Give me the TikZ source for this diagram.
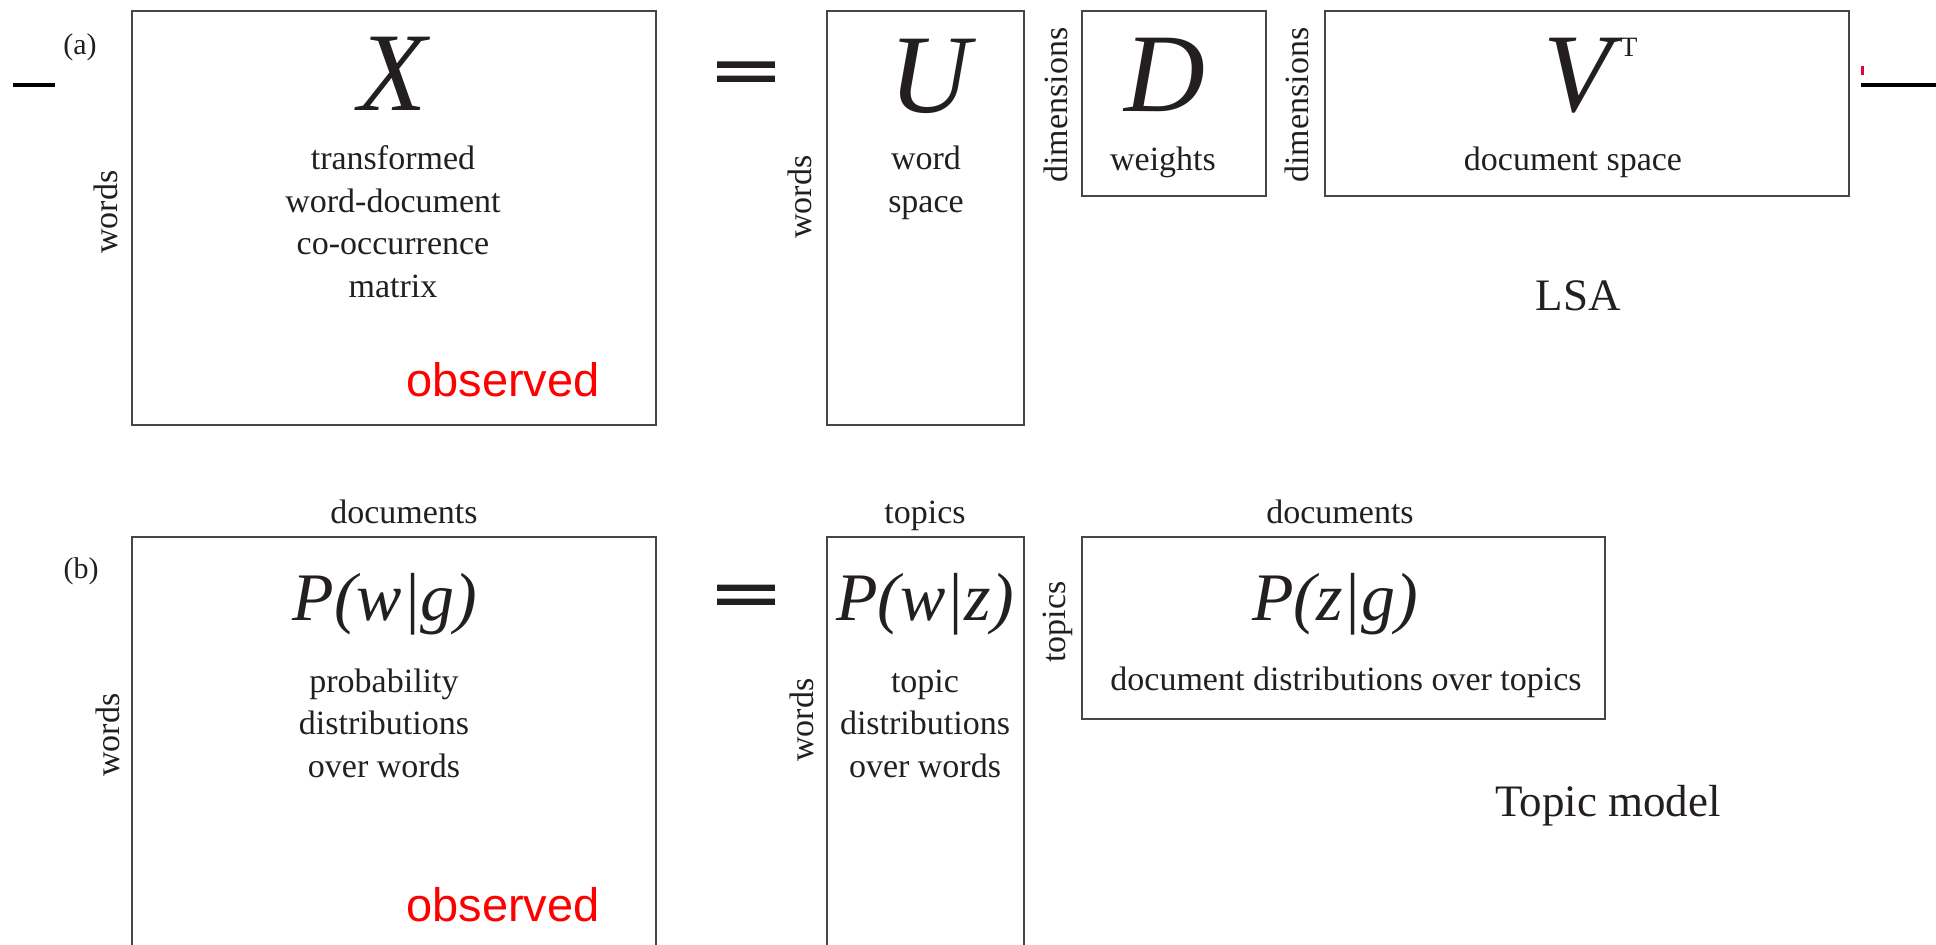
\documentclass[tikz,border=0pt]{standalone}
\usepackage{fontspec}
\setmainfont{Liberation Serif}
\newfontfamily\arialfont{Liberation Sans}
\newfontfamily\heavyfont{Liberation Serif}[FakeBold=4]
\usepackage{graphicx}
\usepackage{tikz}
\definecolor{ink}{RGB}{35,31,32}
\definecolor{frame}{RGB}{70,70,70}
\definecolor{tick}{RGB}{232,0,60}

\begin{document}
\begin{tikzpicture}[x=0.5pt,y=-0.5pt,
mat/.style={draw=frame,line width=1.2pt,inner sep=0pt},
sym/.style={text=ink,font=\fontsize{56}{56}\selectfont\itshape},
prob/.style={text=ink,anchor=base,font=\fontsize{34}{34}\selectfont\itshape},
desc/.style={text=ink,anchor=base,align=center,font=\fontsize{17}{21.2}\selectfont},
axislabel/.style={text=ink,anchor=base,font=\fontsize{17}{17}\selectfont},
sidelabel/.style={text=ink,rotate=90,font=\fontsize{17}{17}\selectfont},
tag/.style={text=ink,font=\fontsize{15}{15}\selectfont},
obs/.style={text=red,font=\fontsize{23.5}{23.5}\selectfont\arialfont},
modelname/.style={text=ink,font=\fontsize{22.5}{22.5}\selectfont},
eqsign/.style={text=ink,font=\fontsize{44}{44}\selectfont\heavyfont},
rule/.style={line width=1.65pt}]
\useasboundingbox (0,0) rectangle (1936,944);

% (a) LSA
\node[tag] (taga) at (80,47) {(a)};
\node[mat,minimum width=262pt,minimum height=207pt] (X) at (394,218) {};
\node[sym] (Xsym) at (393,74) {X};
\node[desc] (Xdesc) at (393,297) {transformed\\word-document\\co-occurrence\\matrix};
\node[obs] (Xobs) at (503,380) {observed};
\node[sidelabel] (Xrows) at (106,212) {words};
\node[eqsign] (eqa) at (746,79) {\scalebox{1.3}[0.8]{=}};

\node[mat,minimum width=98.5pt,minimum height=207pt] (U) at (925.5,218) {};
\node[sym] (Usym) at (930,76) {U};
\node[desc] (Udesc) at (926,212) {word\\space};
\node[sidelabel] (Urows) at (800,197) {words};

\node[mat,minimum width=92pt,minimum height=92.5pt] (D) at (1174,103.5) {};
\node[sym] (Dsym) at (1165,75) {D};
\node[desc] (Ddesc) at (1163,170) {weights};
\node[sidelabel] (Drows) at (1056,105) {dimensions};

\node[mat,minimum width=262pt,minimum height=92.5pt] (V) at (1587,103.5) {};
\node[sym] (Vsym) at (1578,76) {V};
\node[text=ink,font=\fontsize{14}{14}\selectfont] (Vt) at (1629,47) {T};
\node[desc] (Vdesc) at (1573,170) {document space};
\node[sidelabel] (Vrows) at (1297,105) {dimensions};
\node[modelname] (lsa) at (1578,296) {LSA};

% small marks at the edges
\coordinate (la) at (13,85);
\coordinate (lb) at (55,85);
\coordinate (ra) at (1861,85);
\coordinate (rb) at (1936,85);
\draw[rule] (la) -- (lb);
\draw[rule] (ra) -- (rb);
\draw[tick,line width=1.3pt] (1862.5,66) -- (1862.5,75);

% (b) topic model
\node[tag] (tagb) at (81,571) {(b)};
\node[mat,minimum width=262pt,minimum height=211.5pt] (Pwg) at (394,748.5) {};
\node[axislabel] (Pwgcols) at (404,523) {documents};
\node[prob] (Pwgsym) at (385,620) {P(w|g)};
\node[desc] (Pwgdesc) at (384,777) {probability\\distributions\\over words};
\node[obs] (Pwgobs) at (503,905) {observed};
\node[sidelabel] (Pwgrows) at (108,735) {words};
\node[eqsign] (eqb) at (746,602) {\scalebox{1.3}[0.8]{=}};

\node[mat,minimum width=98.5pt,minimum height=211.5pt] (Pwz) at (925.5,748.5) {};
\node[axislabel] (Pwzcols) at (925,523) {topics};
\node[prob] (Pwzsym) at (925,620) {P(w|z)};
\node[desc] (Pwzdesc) at (925,777) {topic\\distributions\\over words};
\node[sidelabel] (Pwzrows) at (802,720) {words};

\node[mat,minimum width=261.5pt,minimum height=91pt] (Pzg) at (1343.5,628) {};
\node[axislabel] (Pzgcols) at (1340,523) {documents};
\node[prob] (Pzgsym) at (1335,620) {P(z|g)};
\node[desc] (Pzgdesc) at (1346,690) {document distributions over topics};
\node[sidelabel] (Pzgrows) at (1058,622) {topics};
\node[modelname] (topicmodel) at (1608,806) {Topic model};
\end{tikzpicture}
\end{document}
